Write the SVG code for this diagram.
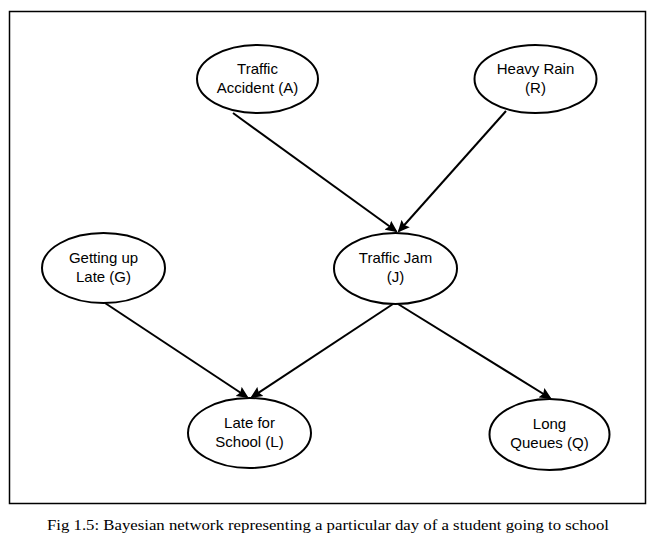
<svg xmlns="http://www.w3.org/2000/svg" width="666" height="559" viewBox="0 0 666 559">
<style>
.node ellipse{fill:#fff;stroke:#000;stroke-width:2}
.node text{font-family:"Liberation Sans",Arial,sans-serif;font-size:15px;fill:#000;text-anchor:middle}
.edge{stroke:#000;stroke-width:2;fill:none;marker-end:url(#arr)}
.cap{font-family:"Liberation Serif","Times New Roman",serif;font-size:15px;fill:#000;text-anchor:middle}
</style>
<defs>
<marker id="arr" markerWidth="12" markerHeight="12" refX="10" refY="6" orient="auto" markerUnits="userSpaceOnUse" viewBox="0 0 12 12">
<path d="M0,0.5 L12,6 L0,11.5 L2,6 z" fill="#000"/>
</marker>
</defs>
<rect x="9.5" y="11.5" width="636" height="492" fill="#fff" stroke="#000" stroke-width="1.5"/>
<g id="connectors">
<line class="edge" x1="233" y1="113" x2="396" y2="231"/>
<line class="edge" x1="506" y1="111" x2="399" y2="231"/>
<line class="edge" x1="105" y1="303" x2="247" y2="397"/>
<line class="edge" x1="393" y1="304" x2="252" y2="397"/>
<line class="edge" x1="398" y1="304" x2="550" y2="398"/>
</g>
<g id="A" class="node">
<ellipse cx="257.5" cy="79" rx="60.5" ry="34"/>
<text x="257.5" y="74">Traffic</text>
<text x="257.5" y="93">Accident (A)</text>
</g>
<g id="R" class="node">
<ellipse cx="535.5" cy="79" rx="61" ry="34"/>
<text x="535.5" y="74">Heavy Rain</text>
<text x="535.5" y="93">(R)</text>
</g>
<g id="G" class="node">
<ellipse cx="103.5" cy="268" rx="61.5" ry="35"/>
<text x="103.5" y="263">Getting up</text>
<text x="103.5" y="282">Late (G)</text>
</g>
<g id="J" class="node">
<ellipse cx="395.5" cy="268.5" rx="61.5" ry="35.5"/>
<text x="395.5" y="263">Traffic Jam</text>
<text x="395.5" y="282">(J)</text>
</g>
<g id="L" class="node">
<ellipse cx="249.5" cy="433" rx="61.5" ry="35"/>
<text x="249.5" y="428">Late for</text>
<text x="249.5" y="447">School (L)</text>
</g>
<g id="Q" class="node">
<ellipse cx="549.5" cy="434.5" rx="60" ry="35.5"/>
<text x="549.5" y="429">Long</text>
<text x="549.5" y="448">Queues (Q)</text>
</g>
<text class="cap" x="328" y="530" textLength="562" lengthAdjust="spacingAndGlyphs">Fig 1.5: Bayesian network representing a particular day of a student going to school</text>
</svg>
